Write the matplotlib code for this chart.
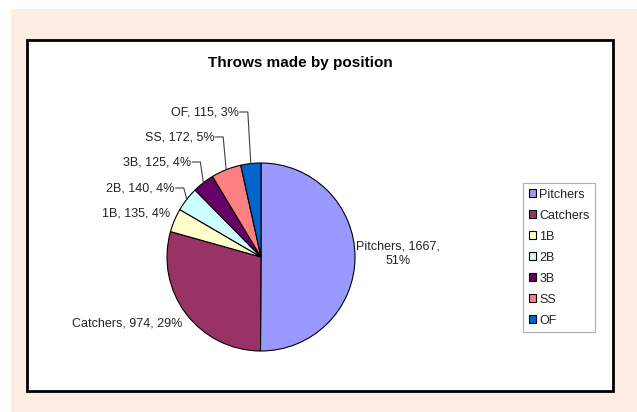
import matplotlib
matplotlib.use("Agg")
import matplotlib.pyplot as plt
from matplotlib.patches import Rectangle
import numpy as np

# ---- data ----
positions = ["Pitchers", "Catchers", "1B", "2B", "3B", "SS", "OF"]
throws = [1667, 974, 135, 140, 125, 172, 115]
percent_labels = [51, 29, 4, 4, 4, 5, 3]
colors = ["#9999FF", "#993366", "#FFFFCC", "#CCFFFF", "#660066", "#FF8080", "#0066CC"]
title = "Throws made by position"

plt.rcParams['font.family'] = ['Liberation Sans', 'DejaVu Sans']

W, H = 637, 412
fig = plt.figure(figsize=(W / 100, H / 100), dpi=100, facecolor="white")
ax = fig.add_axes([0, 0, 1, 1])
ax.set_xlim(0, W)
ax.set_ylim(0, H)
ax.axis("off")

def Y(y_top):
    return H - y_top

# backgrounds
ax.add_patch(Rectangle((11, 0), W - 11, Y(9), facecolor="#FDEDE3", edgecolor="none", zorder=0))
ax.add_patch(Rectangle((27, Y(391)), 613 - 27, 391 - 40, facecolor="white",
                       edgecolor="black", linewidth=2, zorder=1))

cx, cy, r = 261, Y(257), 94
wedges, _ = ax.pie(throws, colors=colors, startangle=90, counterclock=False,
                   center=(cx, cy), radius=r, frame=True,
                   wedgeprops=dict(edgecolor="black", linewidth=0.8))
for w in wedges:
    w.set_zorder(3)
ax.set_xlim(0, W)
ax.set_ylim(0, H)
ax.axis("off")

ax.text(300, Y(63), title, ha="center", va="center", fontsize=11, fontweight="bold",
        color="black", zorder=5)

txt_color = "#222222"
fs = 9

def lab(i):
    return f"{positions[i]}, {throws[i]}, {percent_labels[i]}%"

# Pitchers label
ax.text(398, Y(254), f"{positions[0]}, {throws[0]},\n{percent_labels[0]}%", ha="center",
        va="center", fontsize=fs, color=txt_color, linespacing=1.25, zorder=5)
# Catchers label
ax.text(182, Y(323), lab(1), ha="right", va="center", fontsize=fs, color=txt_color, zorder=5)

# small slices with leader lines
label_y = {2: 213, 3: 188, 4: 162, 5: 137, 6: 112}
leader = {2: False, 3: True, 4: True, 5: True, 6: True}
for i in range(2, 7):
    w = wedges[i]
    mid = np.deg2rad((w.theta1 + w.theta2) / 2)
    ex, ey = cx + r * np.cos(mid), cy + r * np.sin(mid)
    ty = Y(label_y[i])
    if leader[i]:
        tx = ex - 12
        ax.plot([tx + 1, ex - 3, ex], [ty, ty, ey], color="#404040", lw=0.8, zorder=4)
    else:
        tx = 170
    ax.text(tx, ty, lab(i), ha="right", va="center", fontsize=fs, color=txt_color, zorder=5)

leg = ax.legend(wedges, positions, loc="upper left",
                bbox_to_anchor=(523 / W, 1 - 183 / H), bbox_transform=fig.transFigure,
                borderaxespad=0, frameon=True, fancybox=False, fontsize=fs,
                handlelength=0.55, handleheight=0.55, handletextpad=0.3,
                labelspacing=0.72, borderpad=0.45)
leg.get_frame().set_edgecolor("#999999")
leg.get_frame().set_linewidth(0.8)
leg.set_zorder(6)
for t in leg.get_texts():
    t.set_color(txt_color)

fig.savefig("out.png", dpi=100, facecolor="white")
